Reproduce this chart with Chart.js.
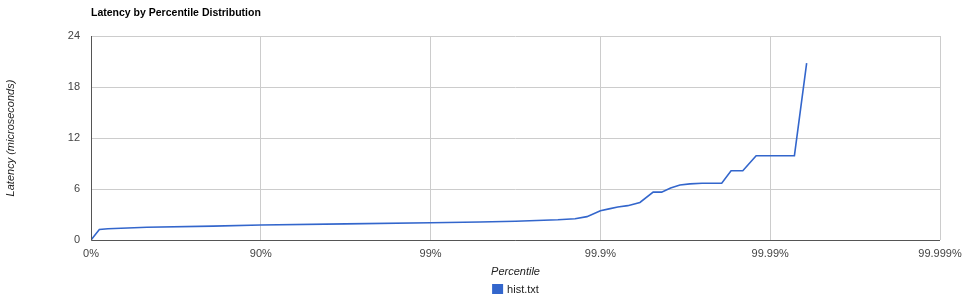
<!DOCTYPE html>
<html>
<head>
<meta charset="utf-8">
<script src="https://cdn.jsdelivr.net/npm/chart.js@4/dist/chart.umd.min.js"></script>
<style>
html,body{margin:0;padding:0;background:#fff;}
#wrap{width:965px;height:303px;position:relative;}
</style>
</head>
<body>
<div id="wrap"><canvas id="c" width="965" height="303"></canvas></div>
<script>
const chartTitle = 'Latency by Percentile Distribution';
const yAxisTitle = 'Latency (microseconds)';
const xAxisTitle = 'Percentile';
const seriesName = 'hist.txt';
const xTickLabels = ['0%', '90%', '99%', '99.9%', '99.99%', '99.999%'];
const yTicks = [0, 6, 12, 18, 24];
// percentile (%) of each point
const percentiles = [0, 10.7, 20.6, 53.2, 80.9, 90, 96.84, 99, 99.487, 99.684, 99.822, 99.859, 99.88,
  99.9, 99.911, 99.921, 99.931, 99.9415, 99.9511, 99.9564, 99.9614, 99.966, 99.9703, 99.9748,
  99.9807, 99.983, 99.9855, 99.9879, 99.9928, 99.9939];
// latency (microseconds)
const latencies = [0, 1.24, 1.33, 1.5, 1.63, 1.76, 1.9, 2.03, 2.12, 2.2, 2.38, 2.5, 2.75,
  3.45, 3.66, 3.88, 4.04, 4.42, 5.63, 5.63, 6.12, 6.48, 6.6, 6.68,
  6.68, 8.15, 8.15, 9.92, 9.92, 20.8];

const lineColor = '#3366cc';
const points = percentiles.map((p, i) => ({ x: Math.log10(100 / (100 - p)), y: latencies[i] }));

const decor = {
  id: 'decor',
  afterDraw(chart) {
    const ctx = chart.ctx;
    const ca = chart.chartArea;
    ctx.save();
    // dark left & bottom axis lines
    ctx.strokeStyle = '#555';
    ctx.lineWidth = 1;
    ctx.beginPath();
    ctx.moveTo(Math.round(ca.left) + 0.5, ca.top);
    ctx.lineTo(Math.round(ca.left) + 0.5, Math.round(ca.bottom) + 0.5);
    ctx.lineTo(ca.right, Math.round(ca.bottom) + 0.5);
    ctx.stroke();
    // title
    ctx.fillStyle = '#000';
    ctx.font = 'bold 10.5px "Liberation Sans", Arial, sans-serif';
    ctx.textAlign = 'left';
    ctx.textBaseline = 'middle';
    ctx.fillText(chartTitle, ca.left, 13);
    // y axis title
    ctx.font = 'italic 11px "Liberation Sans", Arial, sans-serif';
    ctx.fillStyle = '#222';
    ctx.save();
    ctx.translate(11, (ca.top + ca.bottom) / 2);
    ctx.rotate(-Math.PI / 2);
    ctx.textAlign = 'center';
    ctx.fillText(yAxisTitle, 0, 0);
    ctx.restore();
    // x axis title
    const cx = (ca.left + ca.right) / 2;
    ctx.textAlign = 'center';
    ctx.fillText(xAxisTitle, cx, 272);
    // legend
    ctx.font = '11px "Liberation Sans", Arial, sans-serif';
    const tw = ctx.measureText(seriesName).width;
    const total = 11 + 4 + tw;
    const lx = cx - total / 2;
    ctx.fillStyle = lineColor;
    ctx.fillRect(lx, 284, 11, 10);
    ctx.fillStyle = '#222';
    ctx.textAlign = 'left';
    ctx.fillText(seriesName, lx + 15, 289.5);
    ctx.restore();
  }
};

new Chart(document.getElementById('c'), {
  type: 'line',
  data: {
    datasets: [{
      label: seriesName,
      data: points,
      borderColor: lineColor,
      backgroundColor: lineColor,
      borderWidth: 1.6,
      pointRadius: 0,
      tension: 0,
      fill: false
    }]
  },
  options: {
    responsive: false,
    animation: false,
    devicePixelRatio: 1,
    layout: { padding: { left: 0, right: 25, top: 36, bottom: 0 } },
    plugins: { legend: { display: false }, title: { display: false }, tooltip: { enabled: false } },
    scales: {
      x: {
        type: 'linear',
        min: 0,
        max: 5,
        afterFit(s) { s.height = 63; s.paddingLeft = 0; s.paddingRight = 0; },
        afterBuildTicks(s) { s.ticks = xTickLabels.map((_, i) => ({ value: i })); },
        ticks: {
          padding: 7,
          maxRotation: 0,
          autoSkip: false,
          color: '#444',
          font: { family: '"Liberation Sans", Arial, sans-serif', size: 11 },
          callback: (v) => xTickLabels[v]
        },
        grid: { color: '#cccccc', drawTicks: false, lineWidth: 1 },
        border: { display: false }
      },
      y: {
        type: 'linear',
        min: 0,
        max: 24,
        afterFit(s) { s.width = 91; s.paddingTop = 0; s.paddingBottom = 0; },
        afterBuildTicks(s) { s.ticks = yTicks.map(v => ({ value: v })); },
        ticks: {
          padding: 11,
          color: '#444',
          font: { family: '"Liberation Sans", Arial, sans-serif', size: 11 }
        },
        grid: { color: '#cccccc', drawTicks: false, lineWidth: 1 },
        border: { display: false }
      }
    }
  },
  plugins: [decor]
});
</script>
</body>
</html>
